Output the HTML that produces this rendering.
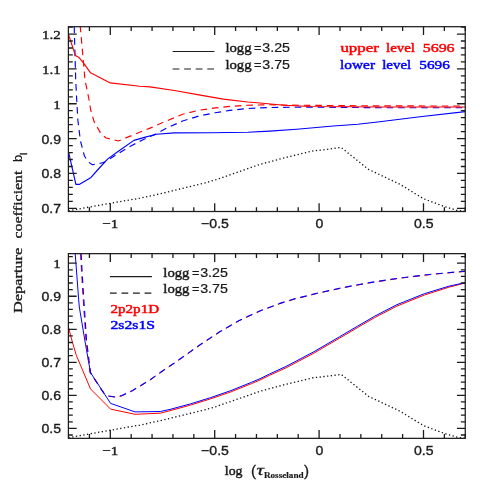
<!DOCTYPE html>
<html><head><meta charset="utf-8"><title>Departure coefficients</title>
<style>html,body{margin:0;padding:0;background:#fff;}svg{display:block;will-change:transform;opacity:0.999;}text{font-variant-ligatures:none;font-kerning:none;}body{font-family:"Liberation Sans",sans-serif;}</style></head>
<body>
<svg width="491" height="491" viewBox="0 0 491 491">
<rect x="0" y="0" width="491" height="491" fill="#ffffff"/>
<defs>
<clipPath id="ct"><rect x="68.4" y="26.7" width="396.85" height="184.8"/></clipPath>
<clipPath id="cb"><rect x="68.4" y="253.65" width="396.85" height="184.70000000000002"/></clipPath>
</defs>
<polyline points="68.5,210.8 110.9,203.2 139.8,198.2 159.8,193.9 205.0,182.9 216.0,179.7 260.0,164.4 284.4,157.8 313.8,150.7 320.0,150.2 341.2,147.5 368.5,169.4 399.8,184.2 423.5,198.7 444.2,206.5 457.0,210.3 465.3,211.5" fill="none" stroke="#111111" stroke-width="1.3" stroke-linejoin="round" stroke-dasharray="1.3 2.45" clip-path="url(#ct)"/>
<polyline points="68.5,437.7 110.9,430.1 139.8,425.1 159.8,420.8 205.0,409.8 216.0,406.6 260.0,391.3 284.4,384.7 313.8,377.6 320.0,377.1 341.2,374.4 368.5,396.3 399.8,411.1 423.5,425.6 444.2,433.4 457.0,437.2 465.3,438.4" fill="none" stroke="#111111" stroke-width="1.3" stroke-linejoin="round" stroke-dasharray="1.3 2.45" clip-path="url(#cb)"/>
<polyline points="68.5,151.9 75.9,184.3 79.6,184.3 91.0,177.4 98.0,169.5 107.8,158.9 119.1,150.7 133.9,140.4 145.3,137.1 156.5,134.3 174.4,132.9 211.1,132.7 247.8,132.2 269.7,131.1 296.7,129.2 333.3,126.0 357.8,124.2 379.7,121.8 420.0,116.8 465.3,111.6" fill="none" stroke="#0000ff" stroke-width="1.15" stroke-linejoin="round" clip-path="url(#ct)"/>
<polyline points="74.2,26.6 75.7,79.9 76.7,100.0 77.9,120.4 80.4,140.7 84.4,156.0 88.5,162.1 92.4,164.8 100.7,163.2 104.6,162.0 122.5,150.9 132.3,145.2 142.0,140.2 155.1,134.4 166.3,128.3 182.6,121.0 198.9,116.0 215.2,112.8 229.8,110.4 247.8,108.5 269.7,107.5 308.9,107.1 379.7,107.7 465.3,107.8" fill="none" stroke="#0000ff" stroke-width="1.15" stroke-linejoin="round" stroke-dasharray="6.6 4.9" clip-path="url(#ct)"/>
<polyline points="80.2,25.7 85.0,79.9 89.1,100.0 90.7,110.0 94.0,121.4 101.3,134.4 106.2,138.0 118.4,141.0 133.9,134.6 150.0,128.1 165.0,121.6 182.6,114.2 198.9,110.3 215.2,107.9 229.8,106.4 247.8,105.3 269.7,104.7 284.4,105.1 379.7,105.9 465.3,106.0" fill="none" stroke="#ff0000" stroke-width="1.15" stroke-linejoin="round" stroke-dasharray="6.6 4.9" clip-path="url(#ct)"/>
<polyline points="68.3,34.0 75.4,55.4 79.1,57.6 83.4,62.8 90.6,72.8 110.3,82.9 139.8,86.2 150.0,86.9 174.4,90.5 198.9,94.9 223.3,99.1 247.8,102.0 260.0,103.0 284.4,105.2 308.9,106.5 379.7,107.0 465.3,107.0" fill="none" stroke="#ff0000" stroke-width="1.15" stroke-linejoin="round" clip-path="url(#ct)"/>
<polyline points="68.5,327.4 71.8,340.0 76.3,355.3 90.5,388.9 110.6,409.1 135.0,414.3 160.3,413.2 170.0,410.7 190.4,405.1 210.7,398.8 231.1,391.8 251.5,383.6 260.0,380.0 269.8,375.2 286.1,367.8 313.8,353.2 339.8,338.0 357.8,327.4 374.7,317.6 396.9,306.1 424.4,295.0 448.9,287.2 465.3,283.0" fill="none" stroke="#ff0000" stroke-width="1.0" stroke-linejoin="round" clip-path="url(#cb)"/>
<polyline points="75.1,250.0 75.2,253.6 78.7,299.9 79.3,307.0 84.8,340.0 90.5,372.6 110.6,403.4 135.0,411.9 160.3,411.5 170.0,409.4 190.4,403.9 210.7,397.6 231.1,390.5 251.5,382.3 260.0,378.7 269.8,373.9 286.1,366.4 313.8,351.8 339.8,336.6 357.8,326.0 374.7,316.2 396.9,304.7 424.4,293.7 448.9,286.2 465.3,282.6" fill="none" stroke="#0000ff" stroke-width="1.0" stroke-linejoin="round" clip-path="url(#cb)"/>
<polyline points="80.5,253.5 81.7,275.0 82.9,294.8 85.9,340.0 89.9,372.6 104.0,393.4 109.0,396.2 115.5,397.2 122.0,395.8 132.7,390.6 149.0,380.8 163.6,370.4 174.5,363.1 200.1,345.0 219.7,332.0 239.2,320.7 260.4,310.9 279.9,303.6 294.4,299.1 318.9,293.0 345.4,287.3 369.9,282.8 400.1,278.2 432.7,274.3 465.4,271.4" fill="none" stroke="#ff0000" stroke-width="1.0" stroke-linejoin="round" stroke-dasharray="6.6 4.9" clip-path="url(#cb)"/>
<polyline points="81.1,253.5 82.3,275.0 83.5,294.8 86.5,340.0 90.5,372.6 100.7,388.6 104.0,393.2 109.0,396.0 115.5,397.0 122.0,395.6 132.6,390.4 148.9,380.6 163.5,370.2 174.4,362.9 200.0,344.8 219.6,331.8 239.1,320.5 260.3,310.7 279.8,303.4 294.4,298.9 318.9,292.8 345.4,287.1 369.8,282.6 400.0,278.0 432.6,274.1 465.3,271.2" fill="none" stroke="#0000ff" stroke-width="1.15" stroke-linejoin="round" stroke-dasharray="6.6 4.9" clip-path="url(#cb)"/>
<rect x="68.4" y="26.7" width="396.85" height="184.8" fill="none" stroke="#1c1c1c" stroke-width="1.25"/>
<path d="M89.42,26.7v4.3M89.42,211.5v-4.3M110.30,26.7v8.3M110.30,211.5v-8.3M131.18,26.7v4.3M131.18,211.5v-4.3M152.06,26.7v4.3M152.06,211.5v-4.3M172.94,26.7v4.3M172.94,211.5v-4.3M193.82,26.7v4.3M193.82,211.5v-4.3M214.70,26.7v8.3M214.70,211.5v-8.3M235.58,26.7v4.3M235.58,211.5v-4.3M256.46,26.7v4.3M256.46,211.5v-4.3M277.34,26.7v4.3M277.34,211.5v-4.3M298.22,26.7v4.3M298.22,211.5v-4.3M319.10,26.7v8.3M319.10,211.5v-8.3M339.98,26.7v4.3M339.98,211.5v-4.3M360.86,26.7v4.3M360.86,211.5v-4.3M381.74,26.7v4.3M381.74,211.5v-4.3M402.62,26.7v4.3M402.62,211.5v-4.3M423.50,26.7v8.3M423.50,211.5v-8.3M444.38,26.7v4.3M444.38,211.5v-4.3M465.26,26.7v4.3M465.26,211.5v-4.3M68.4,27.08h4.4M465.25,27.08h-4.4M68.4,34.05h8.3M465.25,34.05h-8.3M68.4,41.02h4.4M465.25,41.02h-4.4M68.4,47.99h4.4M465.25,47.99h-4.4M68.4,54.96h4.4M465.25,54.96h-4.4M68.4,61.93h4.4M465.25,61.93h-4.4M68.4,68.90h8.3M465.25,68.90h-8.3M68.4,75.87h4.4M465.25,75.87h-4.4M68.4,82.84h4.4M465.25,82.84h-4.4M68.4,89.81h4.4M465.25,89.81h-4.4M68.4,96.78h4.4M465.25,96.78h-4.4M68.4,103.75h8.3M465.25,103.75h-8.3M68.4,110.72h4.4M465.25,110.72h-4.4M68.4,117.69h4.4M465.25,117.69h-4.4M68.4,124.66h4.4M465.25,124.66h-4.4M68.4,131.63h4.4M465.25,131.63h-4.4M68.4,138.60h8.3M465.25,138.60h-8.3M68.4,145.57h4.4M465.25,145.57h-4.4M68.4,152.54h4.4M465.25,152.54h-4.4M68.4,159.51h4.4M465.25,159.51h-4.4M68.4,166.48h4.4M465.25,166.48h-4.4M68.4,173.45h8.3M465.25,173.45h-8.3M68.4,180.42h4.4M465.25,180.42h-4.4M68.4,187.39h4.4M465.25,187.39h-4.4M68.4,194.36h4.4M465.25,194.36h-4.4M68.4,201.33h4.4M465.25,201.33h-4.4M68.4,208.30h8.3M465.25,208.30h-8.3" stroke="#1c1c1c" stroke-width="1.3" fill="none"/>
<rect x="68.4" y="253.65" width="396.85" height="184.70000000000002" fill="none" stroke="#1c1c1c" stroke-width="1.25"/>
<path d="M89.42,253.65v4.3M89.42,438.35v-4.3M110.30,253.65v8.3M110.30,438.35v-8.3M131.18,253.65v4.3M131.18,438.35v-4.3M152.06,253.65v4.3M152.06,438.35v-4.3M172.94,253.65v4.3M172.94,438.35v-4.3M193.82,253.65v4.3M193.82,438.35v-4.3M214.70,253.65v8.3M214.70,438.35v-8.3M235.58,253.65v4.3M235.58,438.35v-4.3M256.46,253.65v4.3M256.46,438.35v-4.3M277.34,253.65v4.3M277.34,438.35v-4.3M298.22,253.65v4.3M298.22,438.35v-4.3M319.10,253.65v8.3M319.10,438.35v-8.3M339.98,253.65v4.3M339.98,438.35v-4.3M360.86,253.65v4.3M360.86,438.35v-4.3M381.74,253.65v4.3M381.74,438.35v-4.3M402.62,253.65v4.3M402.62,438.35v-4.3M423.50,253.65v8.3M423.50,438.35v-8.3M444.38,253.65v4.3M444.38,438.35v-4.3M465.26,253.65v4.3M465.26,438.35v-4.3M68.4,256.59h4.4M465.25,256.59h-4.4M68.4,263.20h8.3M465.25,263.20h-8.3M68.4,269.81h4.4M465.25,269.81h-4.4M68.4,276.42h4.4M465.25,276.42h-4.4M68.4,283.02h4.4M465.25,283.02h-4.4M68.4,289.63h4.4M465.25,289.63h-4.4M68.4,296.24h8.3M465.25,296.24h-8.3M68.4,302.85h4.4M465.25,302.85h-4.4M68.4,309.46h4.4M465.25,309.46h-4.4M68.4,316.06h4.4M465.25,316.06h-4.4M68.4,322.67h4.4M465.25,322.67h-4.4M68.4,329.28h8.3M465.25,329.28h-8.3M68.4,335.89h4.4M465.25,335.89h-4.4M68.4,342.50h4.4M465.25,342.50h-4.4M68.4,349.10h4.4M465.25,349.10h-4.4M68.4,355.71h4.4M465.25,355.71h-4.4M68.4,362.32h8.3M465.25,362.32h-8.3M68.4,368.93h4.4M465.25,368.93h-4.4M68.4,375.54h4.4M465.25,375.54h-4.4M68.4,382.14h4.4M465.25,382.14h-4.4M68.4,388.75h4.4M465.25,388.75h-4.4M68.4,395.36h8.3M465.25,395.36h-8.3M68.4,401.97h4.4M465.25,401.97h-4.4M68.4,408.58h4.4M465.25,408.58h-4.4M68.4,415.18h4.4M465.25,415.18h-4.4M68.4,421.79h4.4M465.25,421.79h-4.4M68.4,428.40h8.3M465.25,428.40h-8.3M68.4,435.01h4.4M465.25,435.01h-4.4" stroke="#1c1c1c" stroke-width="1.3" fill="none"/>
<text transform="translate(60.7,39.0) scale(1.12,1)" text-anchor="end" font-family="Liberation Serif, serif" font-size="13.4" fill="#1a1a1a" stroke="#1a1a1a" stroke-width="0.4">1.2</text>
<text transform="translate(60.7,73.8) scale(1.12,1)" text-anchor="end" font-family="Liberation Serif, serif" font-size="13.4" fill="#1a1a1a" stroke="#1a1a1a" stroke-width="0.4">1.1</text>
<text transform="translate(60.7,108.7) scale(1.12,1)" text-anchor="end" font-family="Liberation Serif, serif" font-size="13.4" fill="#1a1a1a" stroke="#1a1a1a" stroke-width="0.4">1</text>
<text transform="translate(61.0,143.5) scale(1.1,1)" text-anchor="end" font-family="Liberation Sans, sans-serif" font-size="12.8" fill="#1a1a1a" stroke="#1a1a1a" stroke-width="0.35">0.9</text>
<text transform="translate(61.0,178.3) scale(1.1,1)" text-anchor="end" font-family="Liberation Sans, sans-serif" font-size="12.8" fill="#1a1a1a" stroke="#1a1a1a" stroke-width="0.35">0.8</text>
<text transform="translate(61.0,213.2) scale(1.1,1)" text-anchor="end" font-family="Liberation Sans, sans-serif" font-size="12.8" fill="#1a1a1a" stroke="#1a1a1a" stroke-width="0.35">0.7</text>
<text transform="translate(60.7,268.1) scale(1.12,1)" text-anchor="end" font-family="Liberation Serif, serif" font-size="13.4" fill="#1a1a1a" stroke="#1a1a1a" stroke-width="0.4">1</text>
<text transform="translate(61.0,301.1) scale(1.1,1)" text-anchor="end" font-family="Liberation Sans, sans-serif" font-size="12.8" fill="#1a1a1a" stroke="#1a1a1a" stroke-width="0.35">0.9</text>
<text transform="translate(61.0,334.2) scale(1.1,1)" text-anchor="end" font-family="Liberation Sans, sans-serif" font-size="12.8" fill="#1a1a1a" stroke="#1a1a1a" stroke-width="0.35">0.8</text>
<text transform="translate(61.0,367.2) scale(1.1,1)" text-anchor="end" font-family="Liberation Sans, sans-serif" font-size="12.8" fill="#1a1a1a" stroke="#1a1a1a" stroke-width="0.35">0.7</text>
<text transform="translate(61.0,400.3) scale(1.1,1)" text-anchor="end" font-family="Liberation Sans, sans-serif" font-size="12.8" fill="#1a1a1a" stroke="#1a1a1a" stroke-width="0.35">0.6</text>
<text transform="translate(61.0,433.3) scale(1.1,1)" text-anchor="end" font-family="Liberation Sans, sans-serif" font-size="12.8" fill="#1a1a1a" stroke="#1a1a1a" stroke-width="0.35">0.5</text>
<text transform="translate(110.3,227.8) scale(1.12,1)" text-anchor="middle" font-family="Liberation Serif, serif" font-size="13.4" fill="#1a1a1a" stroke="#1a1a1a" stroke-width="0.4">−1</text>
<text transform="translate(215.0,227.8) scale(1.1,1)" text-anchor="middle" font-family="Liberation Sans, sans-serif" font-size="12.8" fill="#1a1a1a" stroke="#1a1a1a" stroke-width="0.35">−0.5</text>
<text transform="translate(319.4,227.8) scale(1.1,1)" text-anchor="middle" font-family="Liberation Sans, sans-serif" font-size="12.8" fill="#1a1a1a" stroke="#1a1a1a" stroke-width="0.35">0</text>
<text transform="translate(423.8,227.8) scale(1.1,1)" text-anchor="middle" font-family="Liberation Sans, sans-serif" font-size="12.8" fill="#1a1a1a" stroke="#1a1a1a" stroke-width="0.35">0.5</text>
<text transform="translate(110.3,454.5) scale(1.12,1)" text-anchor="middle" font-family="Liberation Serif, serif" font-size="13.4" fill="#1a1a1a" stroke="#1a1a1a" stroke-width="0.4">−1</text>
<text transform="translate(215.0,454.5) scale(1.1,1)" text-anchor="middle" font-family="Liberation Sans, sans-serif" font-size="12.8" fill="#1a1a1a" stroke="#1a1a1a" stroke-width="0.35">−0.5</text>
<text transform="translate(319.4,454.5) scale(1.1,1)" text-anchor="middle" font-family="Liberation Sans, sans-serif" font-size="12.8" fill="#1a1a1a" stroke="#1a1a1a" stroke-width="0.35">0</text>
<text transform="translate(423.8,454.5) scale(1.1,1)" text-anchor="middle" font-family="Liberation Sans, sans-serif" font-size="12.8" fill="#1a1a1a" stroke="#1a1a1a" stroke-width="0.35">0.5</text>
<path d="M172.6,51.5H214.5" stroke="#1c1c1c" stroke-width="1.1"/>
<path d="M172.6,69.0H214.0" stroke="#1c1c1c" stroke-width="1.1" stroke-dasharray="6.8 4.75"/>
<text x="225.4" y="51.5" font-family="Liberation Serif, serif" font-size="13.0" fill="#1a1a1a" stroke="#1a1a1a" stroke-width="0.4" textLength="26.2" lengthAdjust="spacingAndGlyphs">logg</text>
<text x="254.0" y="51.5" font-family="Liberation Sans, sans-serif" font-size="11.8" fill="#1a1a1a" stroke="#1a1a1a" stroke-width="0.2" textLength="7.4" lengthAdjust="spacingAndGlyphs">=</text>
<text x="262.3" y="51.5" font-family="Liberation Sans, sans-serif" font-size="12.3" fill="#1a1a1a" stroke="#1a1a1a" stroke-width="0.2" textLength="27.7" lengthAdjust="spacingAndGlyphs">3.25</text>
<text x="225.4" y="68.9" font-family="Liberation Serif, serif" font-size="13.0" fill="#1a1a1a" stroke="#1a1a1a" stroke-width="0.4" textLength="26.2" lengthAdjust="spacingAndGlyphs">logg</text>
<text x="254.0" y="68.9" font-family="Liberation Sans, sans-serif" font-size="11.8" fill="#1a1a1a" stroke="#1a1a1a" stroke-width="0.2" textLength="7.4" lengthAdjust="spacingAndGlyphs">=</text>
<text x="262.3" y="68.9" font-family="Liberation Sans, sans-serif" font-size="12.3" fill="#1a1a1a" stroke="#1a1a1a" stroke-width="0.2" textLength="27.7" lengthAdjust="spacingAndGlyphs">3.75</text>
<text x="340.4" y="51.6" font-family="Liberation Serif, serif" font-size="13.2" fill="#ff0000" stroke="#ff0000" stroke-width="0.45" textLength="38.4" lengthAdjust="spacingAndGlyphs">upper</text>
<text x="386.0" y="51.6" font-family="Liberation Serif, serif" font-size="13.2" fill="#ff0000" stroke="#ff0000" stroke-width="0.45" textLength="29.0" lengthAdjust="spacingAndGlyphs">level</text>
<text x="422.7" y="51.6" font-family="Liberation Serif, serif" font-size="13.2" fill="#ff0000" stroke="#ff0000" stroke-width="0.45" textLength="31.9" lengthAdjust="spacingAndGlyphs">5696</text>
<text x="340.0" y="68.5" font-family="Liberation Serif, serif" font-size="13.2" fill="#0000ff" stroke="#0000ff" stroke-width="0.45" textLength="35.0" lengthAdjust="spacingAndGlyphs">lower</text>
<text x="382.2" y="68.5" font-family="Liberation Serif, serif" font-size="13.2" fill="#0000ff" stroke="#0000ff" stroke-width="0.45" textLength="29.1" lengthAdjust="spacingAndGlyphs">level</text>
<text x="419.3" y="68.5" font-family="Liberation Serif, serif" font-size="13.2" fill="#0000ff" stroke="#0000ff" stroke-width="0.45" textLength="30.5" lengthAdjust="spacingAndGlyphs">5696</text>
<path d="M109.9,276.6H151.9" stroke="#1c1c1c" stroke-width="1.1"/>
<path d="M109.9,293.1H151.5" stroke="#1c1c1c" stroke-width="1.1" stroke-dasharray="6.8 4.75"/>
<text x="163.3" y="276.6" font-family="Liberation Serif, serif" font-size="13.0" fill="#1a1a1a" stroke="#1a1a1a" stroke-width="0.4" textLength="26.2" lengthAdjust="spacingAndGlyphs">logg</text>
<text x="191.9" y="276.6" font-family="Liberation Sans, sans-serif" font-size="11.8" fill="#1a1a1a" stroke="#1a1a1a" stroke-width="0.2" textLength="7.4" lengthAdjust="spacingAndGlyphs">=</text>
<text x="200.20000000000002" y="276.6" font-family="Liberation Sans, sans-serif" font-size="12.3" fill="#1a1a1a" stroke="#1a1a1a" stroke-width="0.2" textLength="27.7" lengthAdjust="spacingAndGlyphs">3.25</text>
<text x="163.3" y="293.1" font-family="Liberation Serif, serif" font-size="13.0" fill="#1a1a1a" stroke="#1a1a1a" stroke-width="0.4" textLength="26.2" lengthAdjust="spacingAndGlyphs">logg</text>
<text x="191.9" y="293.1" font-family="Liberation Sans, sans-serif" font-size="11.8" fill="#1a1a1a" stroke="#1a1a1a" stroke-width="0.2" textLength="7.4" lengthAdjust="spacingAndGlyphs">=</text>
<text x="200.20000000000002" y="293.1" font-family="Liberation Sans, sans-serif" font-size="12.3" fill="#1a1a1a" stroke="#1a1a1a" stroke-width="0.2" textLength="27.7" lengthAdjust="spacingAndGlyphs">3.75</text>
<text x="110.5" y="312.8" font-family="Liberation Serif, serif" font-size="12.2" fill="#ff0000" stroke="#ff0000" stroke-width="0.45" textLength="48.6" lengthAdjust="spacingAndGlyphs">2p2p1D</text>
<text x="110.5" y="329.0" font-family="Liberation Serif, serif" font-size="12.2" fill="#0000ff" stroke="#0000ff" stroke-width="0.45" textLength="44.6" lengthAdjust="spacingAndGlyphs">2s2s1S</text>
<g transform="translate(22.1,313) rotate(-90)">
<text x="0" y="0" font-family="Liberation Serif, serif" font-size="12.9" fill="#1a1a1a" stroke="#1a1a1a" stroke-width="0.32" textLength="65.2" lengthAdjust="spacingAndGlyphs">Departure</text>
<text x="74.5" y="0" font-family="Liberation Serif, serif" font-size="12.9" fill="#1a1a1a" stroke="#1a1a1a" stroke-width="0.32" textLength="68.0" lengthAdjust="spacingAndGlyphs">coefficient</text>
<text x="151.0" y="0" font-family="Liberation Sans, sans-serif" font-size="12.2" fill="#1a1a1a" stroke="#1a1a1a" stroke-width="0.15" textLength="7.2" lengthAdjust="spacingAndGlyphs">b</text>
<text x="158.2" y="5.0" font-family="Liberation Sans, sans-serif" font-size="8.3" fill="#1a1a1a" stroke="#1a1a1a" stroke-width="0.45">l</text>
</g>
<text x="224.8" y="475.4" font-family="Liberation Serif, serif" font-size="13.4" fill="#1a1a1a" stroke="#1a1a1a" stroke-width="0.45" textLength="17.7" lengthAdjust="spacingAndGlyphs">log</text>
<text x="251.0" y="476.0" font-family="Liberation Sans, sans-serif" font-size="15.2" fill="#1a1a1a" stroke="#1a1a1a" stroke-width="0.3">(</text>
<text x="256.6" y="475.4" font-family="Liberation Serif, serif" font-size="14.6" fill="#1a1a1a" stroke="#1a1a1a" stroke-width="0.3" textLength="7.4" lengthAdjust="spacingAndGlyphs" font-style="italic">τ</text>
<text x="263.9" y="478.4" font-family="Liberation Serif, serif" font-size="7.6" fill="#1a1a1a" stroke="#1a1a1a" stroke-width="0.15" textLength="39.7" lengthAdjust="spacingAndGlyphs" font-weight="bold">Rosseland</text>
<text x="304.0" y="476.0" font-family="Liberation Sans, sans-serif" font-size="15.2" fill="#1a1a1a" stroke="#1a1a1a" stroke-width="0.3">)</text>
</svg>
</body></html>
